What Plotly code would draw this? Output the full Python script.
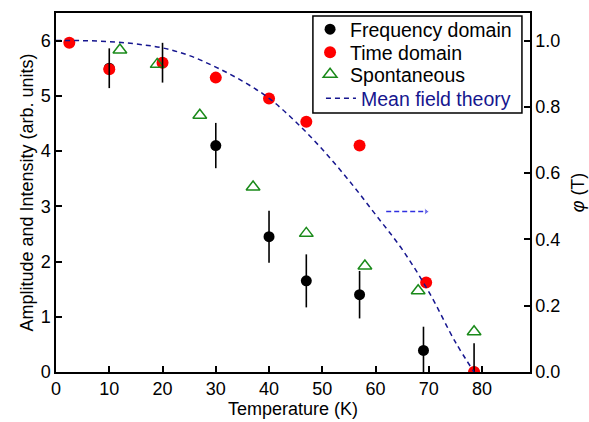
import plotly.graph_objects as go

# Frequency-domain amplitude with error bars
freq_T = [10, 20, 30, 40, 47, 57, 69, 78.5]
freq_A = [5.5, 5.6, 4.1, 2.45, 1.65, 1.4, 0.39, 0.0]
freq_err = [0.36, 0.36, 0.41, 0.47, 0.48, 0.43, 0.43, 0.52]

# Time-domain amplitude
time_T = [2.5, 10, 20, 30, 40, 47, 57, 69.5, 78.5]
time_A = [5.96, 5.48, 5.6, 5.33, 4.95, 4.53, 4.1, 1.62, 0.0]

# Spontaneous intensity
spont_T = [12, 19, 27, 37, 47, 58, 68, 78.5]
spont_I = [5.83, 5.57, 4.65, 3.35, 2.51, 1.92, 1.47, 0.73]

# Mean field order parameter phi(T)
mf_T = [0, 5, 10, 15, 20, 25, 30, 35, 40, 45, 50, 55, 60, 65, 70, 75, 78.5]
mf_phi = [1.0, 1.0, 0.997, 0.99, 0.978, 0.955, 0.92, 0.878, 0.826,
          0.755, 0.672, 0.578, 0.475, 0.37, 0.242, 0.09, 0.0]

# Arrow pointing to the right-hand axis
arrow_T = [62, 69.5]
arrow_phi = [0.484, 0.484]

font = "Liberation Sans, Arial, sans-serif"
navy = "#16168f"
fs = 18
lfs = 19.5

fig = go.Figure()

fig.add_trace(go.Scatter(
    x=freq_T, y=freq_A, mode="markers", name="Frequency domain",
    legend="legend", marker=dict(color="black", size=11),
))
fig.add_trace(go.Scatter(
    x=time_T, y=time_A, mode="markers", name="Time domain",
    legend="legend2", marker=dict(color="#ff0000", size=12),
))
fig.add_trace(go.Scatter(
    x=spont_T, y=spont_I, mode="markers", name="Spontaneous",
    legend="legend3",
    marker=dict(symbol="triangle-up-open", color="#1a8a1a", size=12,
                line=dict(width=1.5)),
))
# error bars drawn on top of the markers
fig.add_trace(go.Scatter(
    x=freq_T, y=freq_A, mode="markers", showlegend=False,
    marker=dict(color="rgba(0,0,0,0)", size=1),
    error_y=dict(type="data", array=freq_err, color="black",
                 thickness=1.6, width=0),
))
fig.add_trace(go.Scatter(
    x=mf_T, y=mf_phi, mode="lines", yaxis="y2", legend="legend4",
    name="Mean field theory",
    line=dict(color=navy, width=1.5, dash="5px,4px"), line_shape="spline",
))
fig.add_trace(go.Scatter(
    x=arrow_T, y=arrow_phi, mode="lines+markers", yaxis="y2", showlegend=False,
    line=dict(color="#3030e0", width=1.5, dash="5px,3px"),
    marker=dict(symbol="triangle-right", size=[0, 6], color="#3030e0"),
))

axis_common = dict(
    showline=True, linecolor="black", linewidth=1.5,
    ticks="inside", ticklen=6, tickwidth=1.5, tickcolor="black",
    showgrid=False, zeroline=False, automargin=False,
    tickfont=dict(family=font, size=fs, color="black"),
)


def legend_at(x, y, color):
    return dict(x=x, y=y, xanchor="left", yanchor="top",
                bgcolor="rgba(0,0,0,0)", borderwidth=0, itemwidth=30,
                font=dict(family=font, size=lfs, color=color))


fig.update_layout(
    width=589, height=422,
    margin=dict(l=56, r=59, t=13, b=50, autoexpand=False),
    paper_bgcolor="white", plot_bgcolor="white",
    font=dict(family=font, size=fs, color="black"),
    xaxis=dict(range=[0, 89], dtick=10, tick0=0, mirror=True,
               title=dict(text="Temperature (K)", standoff=0,
                          font=dict(family=font, size=fs)),
               **axis_common),
    yaxis=dict(range=[0, 6.5], dtick=1, tick0=0, mirror=True,
               title=dict(text="Amplitude and Intensity (arb. units)", standoff=2,
                          font=dict(family=font, size=fs)),
               **axis_common),
    yaxis2=dict(range=[0, 6.5 / 6], dtick=0.2, tick0=0, tickformat=".1f",
                overlaying="y", side="right",
                title=dict(text="<i>φ</i> (T)", standoff=12,
                           font=dict(family=font, size=fs)),
                **axis_common),
    legend=legend_at(0.536, 1.0083, "black"),
    legend2=legend_at(0.536, 0.9443, "black"),
    legend3=legend_at(0.536, 0.8830, "black"),
    legend4=legend_at(0.559, 0.8161, navy),
    shapes=[dict(type="rect", xref="paper", yref="paper",
                 x0=0.542, x1=0.983, y0=0.7214, y1=0.9916,
                 line=dict(color="black", width=1.5), layer="above")],
    showlegend=True,
)

fig.write_html("out.html")
